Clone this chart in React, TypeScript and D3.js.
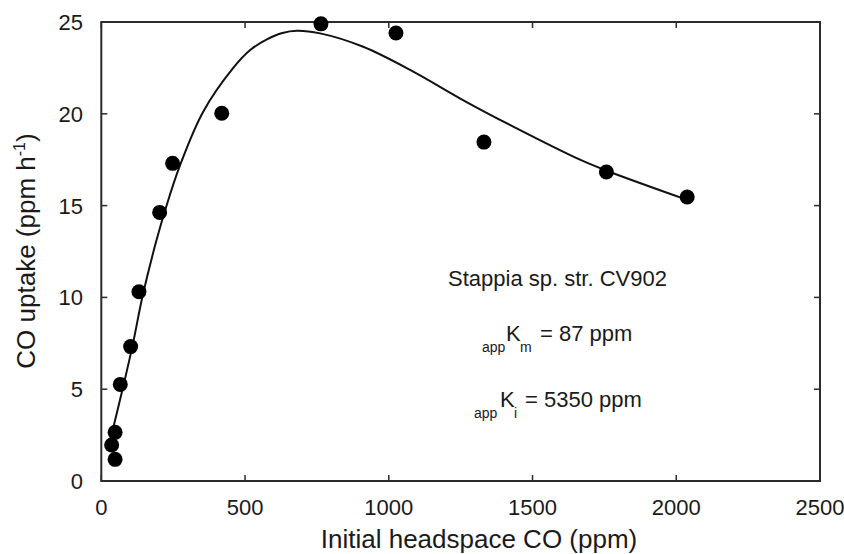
import React from "react";
import * as d3 from "d3";

const xTicks = [0, 500, 1000, 1500, 2000, 2500];
const yTicks = [0, 5, 10, 15, 20, 25];

// measured points: initial headspace CO (ppm) and CO uptake (ppm h-1)
const pointX = [36, 48, 48, 66, 102, 131, 203, 248, 419, 764, 1025, 1331, 1757, 2038];
const pointY = [1.96, 2.65, 1.18, 5.26, 7.32, 10.31, 14.63, 17.3, 20.03, 24.9, 24.4, 18.46, 16.83, 15.47];

// fitted curve
const curveX = [37, 77, 109, 144, 190, 225, 274, 354, 459, 520, 576, 630, 680, 761, 911, 1085, 1258, 1433, 1665, 1758, 2031];
const curveY = [2.6, 5.2, 7.4, 10.1, 13.0, 14.9, 17.2, 20.1, 22.5, 23.5, 24.05, 24.4, 24.52, 24.38, 23.65, 22.3, 20.75, 19.3, 17.5, 16.9, 15.35];

const W = 844;
const H = 554;
const left = 101.3;
const right = 820;
const top = 22;
const bottom = 481;
const FONT = "'Liberation Sans', Arial, Helvetica, sans-serif";
const AX = "#2b2b2b";

export default function App() {
  const x = d3.scaleLinear().domain([0, 2500]).range([left, right]);
  const y = d3.scaleLinear().domain([0, 25]).range([bottom, top]);
  const line = d3
    .line<number>()
    .x((_, i) => x(curveX[i]))
    .y((d) => y(d))
    .curve(d3.curveCatmullRom.alpha(0.5));
  const path = line(curveY) || "";
  const tl = 6;

  return (
    <div style={{ position: "absolute", left: 0, top: 0 }}>
      <svg width={W} height={H} style={{ display: "block", background: "#fff" }} fontFamily={FONT}>
        <rect x={0} y={0} width={W} height={H} fill="#fff" />
        {/* ticks */}
        {xTicks.map((t) => (
          <g key={"xt" + t}>
            <line x1={x(t)} x2={x(t)} y1={bottom} y2={bottom - tl} stroke={AX} strokeWidth={1.5} />
            <line x1={x(t)} x2={x(t)} y1={top} y2={top + tl} stroke={AX} strokeWidth={1.5} />
            <text x={x(t)} y={515} textAnchor="middle" fontSize={22} fill="#1a1a1a">
              {t}
            </text>
          </g>
        ))}
        {yTicks.map((t) => (
          <g key={"yt" + t}>
            <line x1={left} x2={left + tl} y1={y(t)} y2={y(t)} stroke={AX} strokeWidth={1.5} />
            <line x1={right} x2={right - tl} y1={y(t)} y2={y(t)} stroke={AX} strokeWidth={1.5} />
            <text x={83} y={y(t)} dy="0.36em" textAnchor="end" fontSize={22} fill="#1a1a1a">
              {t}
            </text>
          </g>
        ))}
        <rect x={left} y={top} width={right - left} height={bottom - top} fill="none" stroke={AX} strokeWidth={2} />

        <path d={path} fill="none" stroke="#111" strokeWidth={2} />
        {pointX.map((v, i) => (
          <circle key={"p" + i} cx={x(v)} cy={y(pointY[i])} r={7.5} fill="#000" />
        ))}

        {/* axis titles */}
        <text x={479} y={548} textAnchor="middle" fontSize={26} fill="#1a1a1a">
          Initial headspace CO (ppm)
        </text>
        <text transform="translate(35,251) rotate(-90)" textAnchor="middle" fontSize={26} fill="#1a1a1a">
          CO uptake (ppm h
          <tspan fontSize={16} dy={-10}>-1</tspan>
          <tspan dy={10}>)</tspan>
        </text>

        {/* annotation */}
        <text x={448} y={286} fontSize={22} fill="#1a1a1a">Stappia sp. str. CV902</text>
        <text x={482} y={352} fontSize={14} fill="#1a1a1a">app</text>
        <text x={506} y={341} fontSize={22} fill="#1a1a1a">K</text>
        <text x={520} y={352} fontSize={14} fill="#1a1a1a">m</text>
        <text x={540} y={341} fontSize={22} fill="#1a1a1a">= 87 ppm</text>
        <text x={474} y={418} fontSize={14} fill="#1a1a1a">app</text>
        <text x={500} y={407} fontSize={22} fill="#1a1a1a">K</text>
        <text x={514} y={418} fontSize={14} fill="#1a1a1a">i</text>
        <text x={525} y={407} fontSize={22} fill="#1a1a1a">= 5350 ppm</text>
      </svg>
    </div>
  );
}
